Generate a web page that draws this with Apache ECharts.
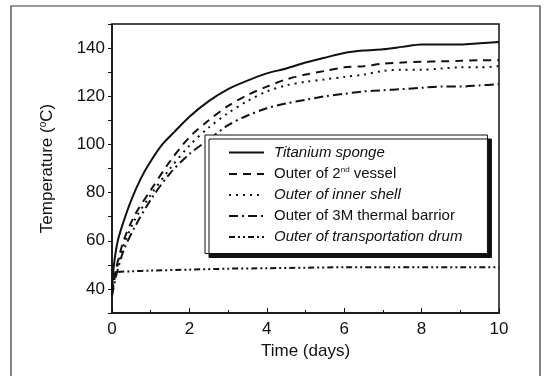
<!DOCTYPE html>
<html>
<head>
<meta charset="utf-8">
<script src="https://cdn.jsdelivr.net/npm/echarts@6/dist/echarts.min.js"></script>
<style>
  html, body { margin: 0; padding: 0; background: #fff; }
  #main { width: 545px; height: 376px; }
</style>
</head>
<body>
<div id="main"></div>
<script>
// time in days, temperature in degC
var sponge = [[0,40],[0.05,50],[0.15,60],[0.3,68],[0.5,77],[0.75,86],[1,93],[1.3,100],[1.6,105],[2,111.5],[2.5,118],[3,123],[3.5,126.5],[4,129.5],[4.5,131.5],[5,134],[5.5,136],[6,138],[6.5,139],[7,139.5],[7.5,140.5],[8,141.5],[8.5,141.5],[9,141.5],[9.5,142],[10,142.5]];
var vessel = [[0,38],[0.1,48],[0.3,60],[0.6,71],[1,81],[1.5,93],[2,103],[2.5,110],[3,116],[3.5,120.5],[4,124],[4.5,127],[5,129],[5.5,130.5],[6,132],[6.5,132.5],[7,133.5],[7.5,134],[8,134.3],[8.5,134.5],[9,134.7],[9.5,135],[10,135]];
var shell = [[0,38],[0.1,47],[0.3,58],[0.6,69],[1,79],[1.5,90],[2,99.5],[2.5,107],[3,113],[3.5,118],[4,122],[4.5,124.5],[5,126],[5.5,127],[6,128],[6.5,129],[7,130.5],[7.5,131],[8,131],[8.5,131.5],[9,132],[9.5,132],[10,132.5]];
var barrier = [[0,37],[0.1,45],[0.3,56],[0.6,66],[1,77],[1.5,88],[2,96],[2.5,102],[3,108],[3.5,112],[4,115],[4.5,117],[5,118.5],[5.5,120],[6,121],[6.5,122],[7,122.5],[7.5,123],[8,123.5],[8.5,124],[9,124],[9.5,124.5],[10,125]];
var drum = [[0,40],[0.05,45],[0.15,47],[0.5,47.3],[1,47.6],[2,48],[3,48.4],[4,48.6],[5,48.8],[6,49],[7,49],[8,49],[9,49],[10,49]];

var names = ['Titanium sponge', 'Outer of 2nd vessel', 'Outer of inner shell', 'Outer of 3M thermal barrior', 'Outer of transportation drum'];
var dashes = ['solid', [8, 6], [2, 5], [9, 4, 2, 4], [6, 3, 2, 3, 2, 3]];
var seriesData = [sponge, vessel, shell, barrier, drum];

var chart = echarts.init(document.getElementById('main'));

var series = seriesData.map(function (d, i) {
    return {
        name: names[i],
        type: 'line',
        data: d,
        smooth: 0.3,
        symbol: 'none',
        color: '#111',
        lineStyle: { color: '#111', width: 2, type: dashes[i] }
    };
});

option = {
    backgroundColor: '#fff',
    animation: false,
    textStyle: { fontFamily: 'Liberation Sans, Arial, sans-serif', color: '#111' },
    graphic: [{
        type: 'rect',
        shape: { x: 11, y: 6, width: 529, height: 380 },
        style: { fill: 'none', stroke: '#333', lineWidth: 1.2 }
    }],
    grid: { left: 112, right: 46, top: 24, bottom: 63, show: true, borderColor: '#111', borderWidth: 1.5 },
    legend: {
        orient: 'vertical',
        left: 205,
        top: 135,
        padding: [10, 25, 9, 23],
        itemGap: 6,
        itemWidth: 35,
        itemHeight: 14,
        backgroundColor: '#fff',
        borderColor: '#111',
        borderWidth: 1,
        shadowColor: '#111',
        shadowBlur: 0,
        shadowOffsetX: 4,
        shadowOffsetY: 4,
        itemStyle: { opacity: 0 },
        data: names,
        formatter: function (n) {
            if (n === 'Outer of 2nd vessel') return 'Outer of 2{sup|nd} vessel';
            if (n === 'Titanium sponge' || n === 'Outer of inner shell' || n === 'Outer of transportation drum') return '{it|' + n + '}';
            return n;
        },
        textStyle: {
            fontSize: 15,
            color: '#111',
            padding: [0, 0, 0, 5],
            rich: {
                sup: { fontSize: 8, verticalAlign: 'top', padding: [0, 0, 8, 0] },
                it: { fontSize: 15, fontStyle: 'italic' }
            }
        }
    },
    xAxis: {
        type: 'value',
        min: 0, max: 10, interval: 2,
        name: 'Time (days)',
        nameLocation: 'middle',
        nameGap: 30,
        nameTextStyle: { fontSize: 17, color: '#111' },
        axisLine: { lineStyle: { color: '#111', width: 1.5 } },
        axisTick: { inside: true, length: 5, lineStyle: { color: '#111' } },
        minorTick: { show: true, splitNumber: 2, length: 3, lineStyle: { color: '#111' } },
        axisLabel: { fontSize: 17, color: '#111', margin: 8 },
        splitLine: { show: false }
    },
    yAxis: {
        type: 'value',
        min: 30, max: 150, interval: 10,
        name: 'Temperature ({sup|o}C)',
        nameLocation: 'middle',
        nameGap: 56,
        nameTextStyle: {
            fontSize: 17, color: '#111',
            rich: { sup: { fontSize: 10, verticalAlign: 'top', padding: [0, 0, 8, 0] } }
        },
        axisLine: { lineStyle: { color: '#111', width: 1.5 } },
        axisTick: { inside: false, length: 4, lineStyle: { color: '#111' } },
        axisLabel: {
            fontSize: 17, color: '#111', margin: 7,
            formatter: function (v) { return (v % 20 === 0 && v >= 40 && v <= 140) ? v : ''; }
        },
        splitLine: { show: false }
    },
    series: series
};

chart.setOption(option);
</script>
</body>
</html>
